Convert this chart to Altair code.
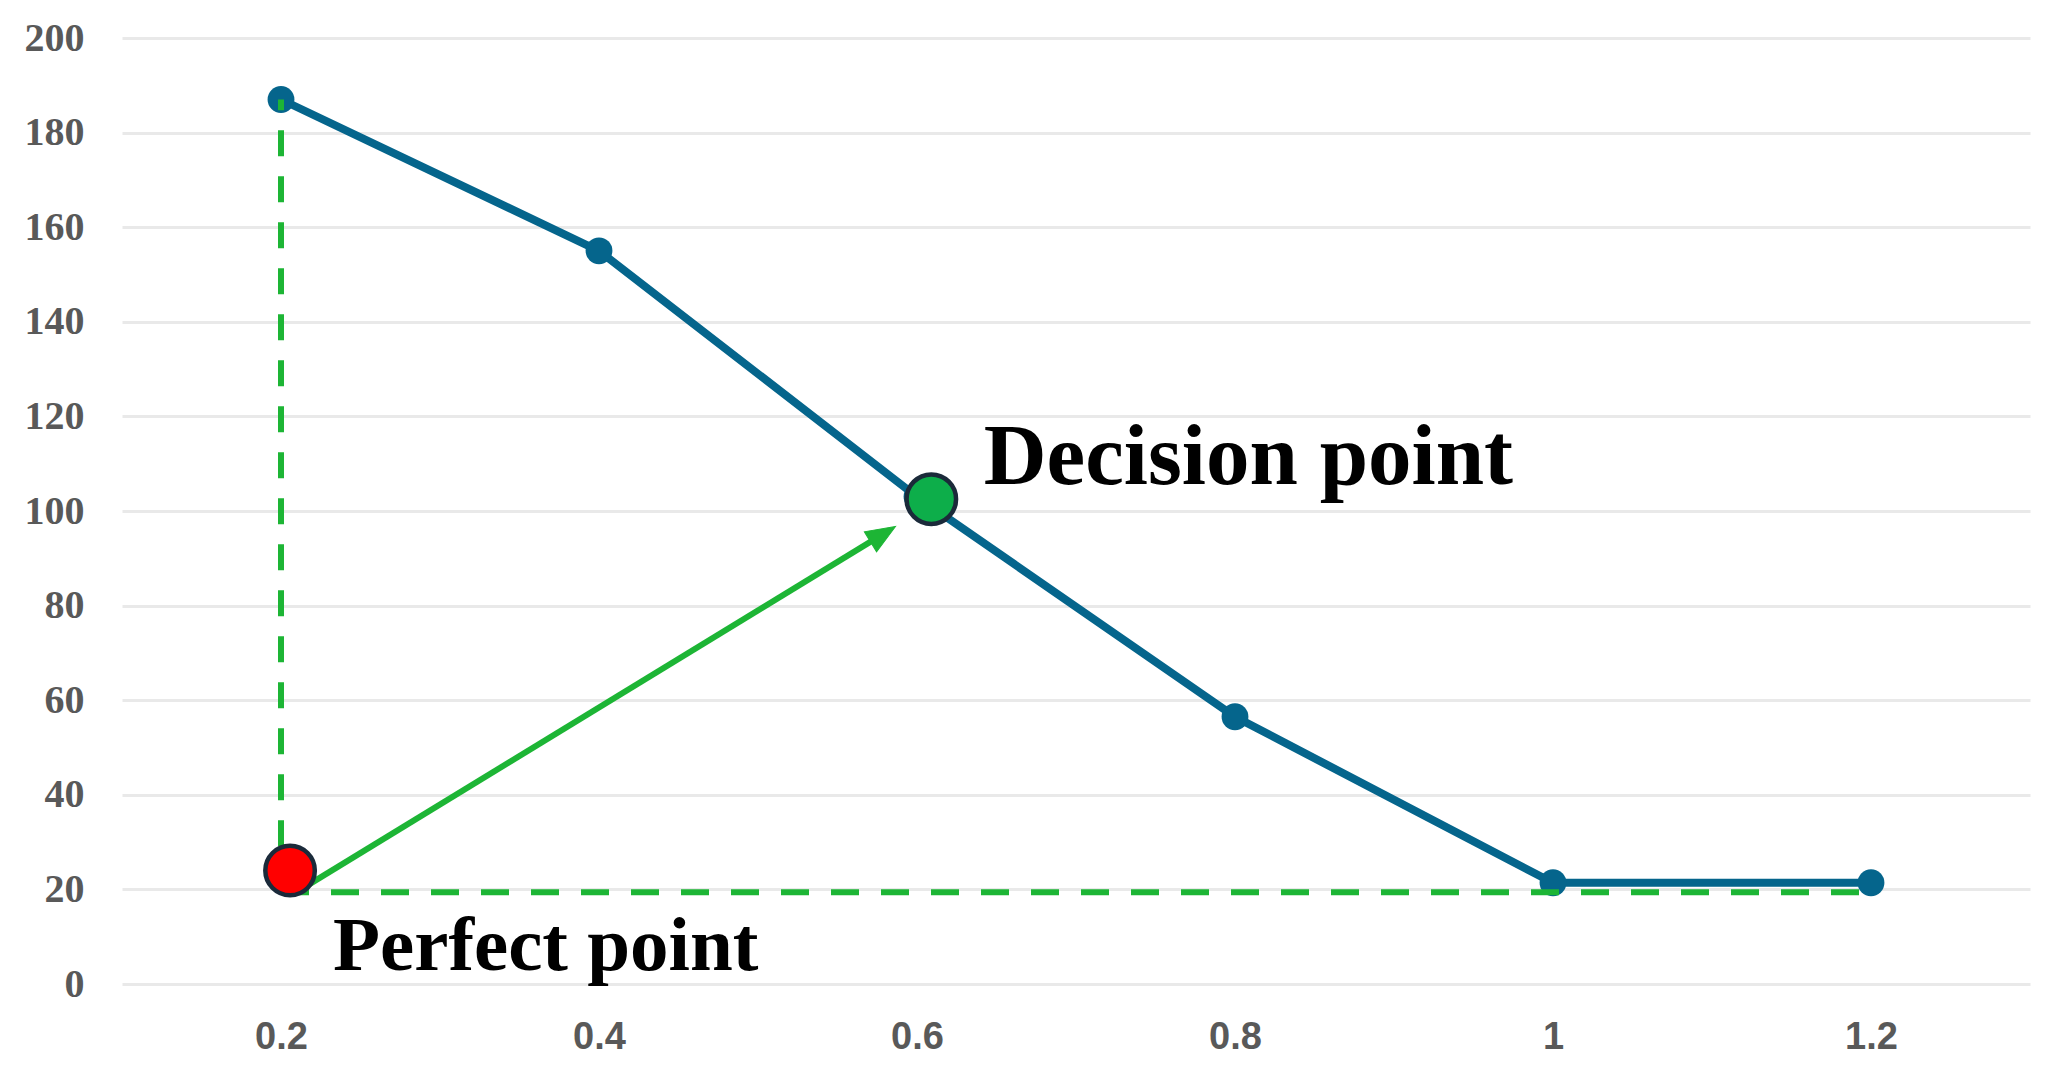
import math
import altair as alt
import pandas as pd

# ---- data ----
x_vals = [0.2, 0.4, 0.6, 0.8, 1.0, 1.2]
y_vals = [187, 155, 103, 56.5, 21.4, 21.4]

x_ticks = [0.2, 0.4, 0.6, 0.8, 1.0, 1.2]
y_ticks = [0, 20, 40, 60, 80, 100, 120, 140, 160, 180, 200]

# guide (dashed) lines
vguide_x = [0.2]
vguide_y = [19.4]
vguide_y2 = [187]
hguide_x = [0.2]
hguide_x2 = [1.2]
hguide_y = [19.4]

# arrow from perfect point toward decision point
arrow_start = (0.212, 19.9)
arrow_head = (0.5786, 95.1)

# highlighted points
perfect_pt = (0.2057, 24.0)
decision_pt = (0.609, 102.5)

labels = ["Decision point", "Perfect point"]
label_x = [0.642, 0.2327]
label_y = [105.8, 3.0]

# ---- layout ----
W, H = 1908, 946
XDOM = [0.1, 1.3]
YDOM = [0, 200]

xs = alt.Scale(domain=XDOM, nice=False, zero=False)
ys = alt.Scale(domain=YDOM, nice=False, zero=True)

df = pd.DataFrame({"x": x_vals, "y": y_vals})

x_axis = alt.Axis(values=x_ticks, format=".1~f", grid=False, ticks=False, domain=False,
                  labelFont="Liberation Sans", labelFontWeight="bold", labelFontSize=38,
                  labelColor="#595959", labelPadding=34, title=None)
y_axis = alt.Axis(values=y_ticks, grid=True, gridColor="#E9E9E9", gridWidth=3,
                  ticks=False, domain=False,
                  labelFont="Liberation Serif", labelFontWeight="bold", labelFontSize=40,
                  labelColor="#595959", labelPadding=38, title=None)

base_x = alt.X("x:Q", scale=xs, axis=x_axis)
base_y = alt.Y("y:Q", scale=ys, axis=y_axis)

BLUE = "#05658C"
GREEN = "#1DB535"

line = alt.Chart(df).mark_line(color=BLUE, strokeWidth=8).encode(x=base_x, y=base_y)
pts = alt.Chart(df).mark_circle(color=BLUE, size=720, opacity=1).encode(x="x:Q", y="y:Q")

vdf = pd.DataFrame({"x": vguide_x, "y": vguide_y, "y2": vguide_y2})
vrule = alt.Chart(vdf).mark_rule(color=GREEN, strokeWidth=6, strokeDash=[26, 20]).encode(
    x="x:Q", y="y:Q", y2="y2:Q")
hdf = pd.DataFrame({"x": hguide_x, "x2": hguide_x2, "y": hguide_y})
hrule = alt.Chart(hdf).mark_rule(color=GREEN, strokeWidth=6, strokeDash=[28, 22]).encode(
    x="x:Q", x2="x2:Q", y="y:Q")

adf = pd.DataFrame({"x": [arrow_start[0]], "y": [arrow_start[1]],
                    "x2": [arrow_head[0]], "y2": [arrow_head[1]]})
arrow_line = alt.Chart(adf).mark_rule(color=GREEN, strokeWidth=6).encode(
    x="x:Q", y="y:Q", x2="x2:Q", y2="y2:Q")

# arrowhead rotation from pixel direction
dx = (arrow_head[0] - arrow_start[0]) / (XDOM[1] - XDOM[0]) * W
dy = (arrow_head[1] - arrow_start[1]) / (YDOM[1] - YDOM[0]) * H
ang = math.degrees(math.atan2(dx, dy))
hdf2 = pd.DataFrame({"x": [arrow_head[0]], "y": [arrow_head[1]]})
arrow_tip = alt.Chart(hdf2).mark_point(
    shape="M0,-1L0.8,1L-0.8,1Z", filled=True, fill=GREEN, stroke=GREEN, strokeWidth=1,
    size=860, angle=ang, opacity=1).encode(x="x:Q", y="y:Q")

pdf = pd.DataFrame({"x": [perfect_pt[0]], "y": [perfect_pt[1]]})
perfect = alt.Chart(pdf).mark_point(shape="circle", filled=True, fill="#FF0000",
                                    stroke="#1B2A3A", strokeWidth=4.5, size=2450, opacity=1).encode(
    x="x:Q", y="y:Q")
ddf = pd.DataFrame({"x": [decision_pt[0]], "y": [decision_pt[1]]})
decision = alt.Chart(ddf).mark_point(shape="circle", filled=True, fill="#0DAE4A",
                                     stroke="#1B2A3A", strokeWidth=4.5, size=2450, opacity=1).encode(
    x="x:Q", y="y:Q")

tdf = pd.DataFrame({"label": labels, "x": label_x, "y": label_y, "fs": [87, 77]})
texts = alt.Chart(tdf).mark_text(font="Liberation Serif", fontWeight="bold", color="#000000",
                                 align="left", baseline="alphabetic").encode(
    x="x:Q", y="y:Q", text="label:N",
    size=alt.Size("fs:Q", scale=None, legend=None))

chart = alt.layer(line, pts, vrule, hrule, arrow_line, arrow_tip, perfect, decision, texts).properties(
    width=W, height=H,
    autosize=alt.AutoSizeParams(type="none"),
    padding={"left": 114, "top": 30, "right": 10, "bottom": 80},
    background="#FFFFFF",
).configure_view(strokeWidth=0)

chart.save("out.html", embed_options={"renderer": "svg", "actions": False})
